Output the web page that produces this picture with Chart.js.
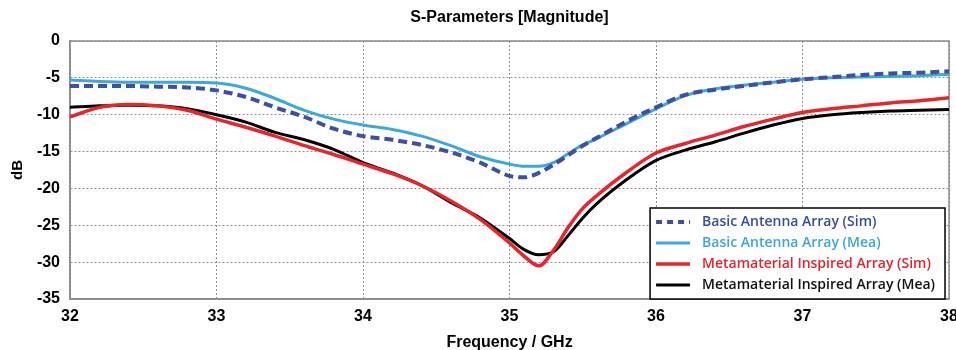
<!DOCTYPE html>
<html>
<head>
<meta charset="utf-8">
<script src="https://cdn.jsdelivr.net/npm/chart.js@4.4.1/dist/chart.umd.min.js"></script>
<style>
  html, body { margin: 0; padding: 0; background: #fff; }
  #wrap { width: 956px; height: 350px; }
</style>
</head>
<body>
<div id="wrap"><canvas id="sparam" width="956" height="350"></canvas></div>
<script>
// frequency points (GHz)
var freqs = [32, 32.2, 32.4, 32.6, 32.8, 33, 33.2, 33.4, 33.6, 33.8, 34, 34.2, 34.4, 34.6, 34.8,
             35, 35.1, 35.2, 35.3, 35.4, 35.5, 35.6, 35.8, 36, 36.2, 36.4, 36.6, 36.8, 37,
             37.2, 37.4, 37.6, 37.8, 38];

// S11 magnitudes in dB
var basicSim = [-6.1, -6.1, -6.1, -6.2, -6.3, -6.7, -7.6, -9.0, -10.3, -11.9, -12.9, -13.4, -14.1, -15.1, -16.5,
                -18.3, -18.5, -17.9, -16.8, -15.5, -14.2, -13.1, -10.9, -9.0, -7.3, -6.6, -6.1, -5.6, -5.2,
                -4.9, -4.6, -4.4, -4.3, -4.1];
var basicMea = [-5.3, -5.5, -5.6, -5.6, -5.6, -5.7, -6.4, -7.8, -9.4, -10.6, -11.4, -12.0, -12.9, -14.2, -15.7,
                -16.7, -17.0, -17.0, -16.5, -15.3, -14.1, -13.2, -11.2, -9.2, -7.4, -6.5, -6.0, -5.6, -5.2,
                -5.0, -4.9, -4.8, -4.7, -4.5];
var metaSim  = [-10.3, -9.0, -8.6, -8.8, -9.4, -10.6, -11.7, -12.9, -14.2, -15.4, -16.7, -18.0, -19.6, -21.7, -24.2,
                -27.4, -29.2, -30.5, -28.4, -25.3, -22.7, -20.9, -17.8, -15.2, -13.9, -12.8, -11.6, -10.6, -9.7,
                -9.2, -8.8, -8.4, -8.1, -7.7];
var metaMea  = [-9.0, -8.8, -8.7, -8.8, -9.2, -10.0, -11.0, -12.4, -13.4, -14.7, -16.5, -17.9, -19.6, -21.9, -24.0,
                -26.8, -28.3, -29.0, -28.6, -26.4, -24.0, -22.0, -18.8, -16.2, -14.8, -13.7, -12.5, -11.4, -10.5,
                -10.0, -9.7, -9.5, -9.4, -9.3];

var seriesNames = ["Basic Antenna Array (Sim)", "Basic Antenna Array (Mea)",
                   "Metamaterial Inspired Array (Sim)", "Metamaterial Inspired Array (Mea)"];
var xTicks = [32, 33, 34, 35, 36, 37, 38];
var yTicks = [0, -5, -10, -15, -20, -25, -30, -35];

function toPoints(vals) {
    return freqs.map(function(f, i) { return { x: f, y: vals[i] }; });
}

var fam = "'Liberation Sans', Arial, sans-serif";
var tickFont = { family: fam, size: 16, weight: "bold" };

// plot frame drawn as a solid box round the chart area
var frameBox = {
    id: "frameBox",
    beforeDatasetsDraw: function(chart) {
        var a = chart.chartArea, ctx = chart.ctx;
        ctx.save();
        ctx.strokeStyle = "#8c8c8c";
        ctx.lineWidth = 1.5;
        ctx.strokeRect(a.left, a.top, a.right - a.left, a.bottom - a.top);
        ctx.restore();
    }
};

// boxed legend inside the lower right corner
var boxLegend = {
    id: "boxLegend",
    afterDraw: function(chart) {
        var a = chart.chartArea, ctx = chart.ctx;
        var sets = chart.data.datasets;
        ctx.save();
        ctx.font = "600 14px 'Open Sans', sans-serif";
        var maxW = 0;
        sets.forEach(function(ds) { maxW = Math.max(maxW, ctx.measureText(ds.label).width); });
        var rowH = 21, padL = 6, sampleW = 34, gap = 12, padR = 10;
        var w = padL + sampleW + gap + maxW + padR;
        var h = rowH * sets.length + 7;
        var right = a.right - 4, bottom = a.bottom;
        var left = right - w, top = bottom - h;
        ctx.fillStyle = "#fff";
        ctx.fillRect(left, top, w, h);
        ctx.strokeStyle = "#000";
        ctx.lineWidth = 1.5;
        ctx.strokeRect(left, top, w, h);
        ctx.textBaseline = "middle";
        sets.forEach(function(ds, i) {
            var y = top + 14 + i * rowH;
            ctx.beginPath();
            ctx.strokeStyle = ds.borderColor;
            ctx.lineWidth = ds.borderWidth;
            ctx.setLineDash(ds.borderDash && ds.borderDash.length ? [6, 5] : []);
            ctx.moveTo(left + padL, y);
            ctx.lineTo(left + padL + sampleW, y);
            ctx.stroke();
            ctx.setLineDash([]);
            ctx.fillStyle = ds.legendText;
            ctx.fillText(ds.label, left + padL + sampleW + gap, y);
        });
        ctx.restore();
    }
};

new Chart(document.getElementById("sparam"), {
    type: "line",
    data: {
        datasets: [
            { label: seriesNames[0], data: toPoints(basicSim), borderColor: "#3f4fa7", legendText: "#3a4aa5",
              borderWidth: 4, borderDash: [9, 5] },
            { label: seriesNames[1], data: toPoints(basicMea), borderColor: "#3aaade", legendText: "#3aa7dc",
              borderWidth: 3 },
            { label: seriesNames[2], data: toPoints(metaSim), borderColor: "#e8262a", legendText: "#e3262b",
              borderWidth: 3.5 },
            { label: seriesNames[3], data: toPoints(metaMea), borderColor: "#000000", legendText: "#111111",
              borderWidth: 3 }
        ]
    },
    options: {
        responsive: false,
        animation: false,
        layout: { padding: { left: 0, right: 7, top: 0, bottom: 0 } },
        elements: {
            point: { radius: 0 },
            line: { cubicInterpolationMode: "monotone", fill: false }
        },
        plugins: {
            legend: { display: false },
            tooltip: { enabled: false },
            title: {
                display: true,
                fullSize: false,
                text: "S-Parameters [Magnitude]",
                color: "#000",
                font: { family: fam, size: 16, weight: "bold" },
                padding: { top: 8, bottom: 13.8 }
            }
        },
        scales: {
            x: {
                type: "linear",
                min: xTicks[0],
                max: xTicks[xTicks.length - 1],
                afterBuildTicks: function(s) { s.ticks = xTicks.map(function(v) { return { value: v }; }); },
                afterFit: function(s) { s.height = 51; s.paddingLeft = 0; s.paddingRight = 0; },
                ticks: { color: "#000", font: tickFont, padding: 8, maxRotation: 0 },
                grid: { color: "#8f8f8f", lineWidth: 1, drawTicks: false },
                border: { display: true, color: "#8c8c8c", width: 1.5, dash: [2, 2] },
                title: {
                    display: true,
                    text: "Frequency / GHz",
                    color: "#000",
                    font: { family: fam, size: 16, weight: "bold" },
                    padding: { top: 0, bottom: -2 }
                }
            },
            y: {
                min: yTicks[yTicks.length - 1],
                max: yTicks[0],
                afterBuildTicks: function(s) { s.ticks = yTicks.slice().reverse().map(function(v) { return { value: v }; }); },
                afterFit: function(s) { s.width = 70; },
                ticks: { color: "#000", font: tickFont, padding: 10 },
                grid: { color: "#8f8f8f", lineWidth: 1, drawTicks: false },
                border: { display: true, color: "#8c8c8c", width: 1.5, dash: [2, 2] },
                title: {
                    display: true,
                    text: "dB",
                    color: "#000",
                    font: { family: fam, size: 15, weight: "bold" },
                    padding: { top: 9, bottom: 0 }
                }
            }
        }
    },
    plugins: [frameBox, boxLegend]
});
</script>
</body>
</html>
